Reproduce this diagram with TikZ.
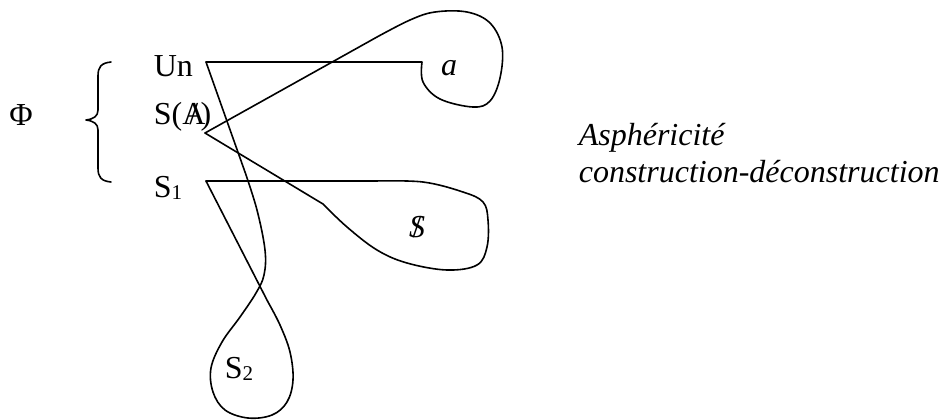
\documentclass[tikz,border=0pt]{standalone}
\usepackage{fontspec}
\setmainfont{Liberation Serif}

\newcommand{\barred}[1]{\ooalign{#1\cr\hidewidth/\hidewidth}}
\newcommand{\lowidx}[1]{\raisebox{-0.2ex}{\fontsize{10.5}{11}\selectfont #1}}

\begin{document}
\begin{tikzpicture}[
    x=0.5pt, y=-0.5pt,
    font=\fontsize{16}{19}\selectfont,
    line width=0.8pt,
    term/.style={anchor=base west, inner sep=0pt},
    curl/.style={line join=round, line cap=round}
]
    \useasboundingbox (0,0) rectangle (945,419);

    % left column
    \node[anchor=center, inner sep=0pt] (phi) at (21,115) {Φ};
    \draw[curl] (111,62) .. controls (101,63) and (98,67) .. (98,76) -- (98,110)
        .. controls (98,116) and (94,119) .. (86,120)
        .. controls (94,121) and (98,124) .. (98,130) -- (98,168)
        .. controls (98,177) and (101,181) .. (111,182);

    \node[term] (un) at (153,76) {Un};
    \node[term] (sa) at (153,124) {S(\barred{A}\kern-0.15em)};
    \node[term] (s1) at (153,197) {S\lowidx{1}};

    \coordinate (un-tip) at (206,62);
    \coordinate (sa-tip) at (205,133);
    \coordinate (s1-tip) at (206,181);

    % loop labels
    \node[anchor=base, inner sep=0pt] (a) at (449,75) {\textit{a}};
    \node[anchor=base, inner sep=0pt] (sbar) at (417,237) {\barred{\textit{S}}};
    \node[term] (s2) at (224,378) {S\lowidx{2}};

    % base of a two-line node sits on its last line
    \node[term, align=left, font=\fontsize{16}{18.5}\selectfont\itshape] (note) at (578,182)
        {Asphéricité\\construction-déconstruction};

    % Un -- a -- S(A)
    \draw[curl] (un-tip) -- (422,62)
        plot[smooth, tension=0.6] coordinates {(422,62) (423,82) (440,99) (473,107)
        (490,101) (500,78) (502,47) (490,23) (467,12) (435,12) (410,20) (377,37)}
        -- (sa-tip);

    % S(A) -- S-barred -- S1
    \draw[curl] (sa-tip) -- (323,204)
        plot[smooth, tension=0.6] coordinates {(323,204) (347,227) (377,250) (407,263)
        (447,270) (477,265) (487,247) (488,220) (483,202) (463,192) (423,182) (375,181)}
        -- (s1-tip);

    % Un -- S2 -- S1
    \draw[curl] (un-tip) -- (245,172)
        plot[smooth, tension=0.6] coordinates {(245,172) (257,210) (265,250) (264,275)
        (256,293) (240,317) (222,342) (211,368) (213,392) (225,410) (248,418)
        (272,415) (287,402) (293,380) (290,352) (280,325) (268,302)}
        -- (s1-tip);
\end{tikzpicture}
\end{document}
